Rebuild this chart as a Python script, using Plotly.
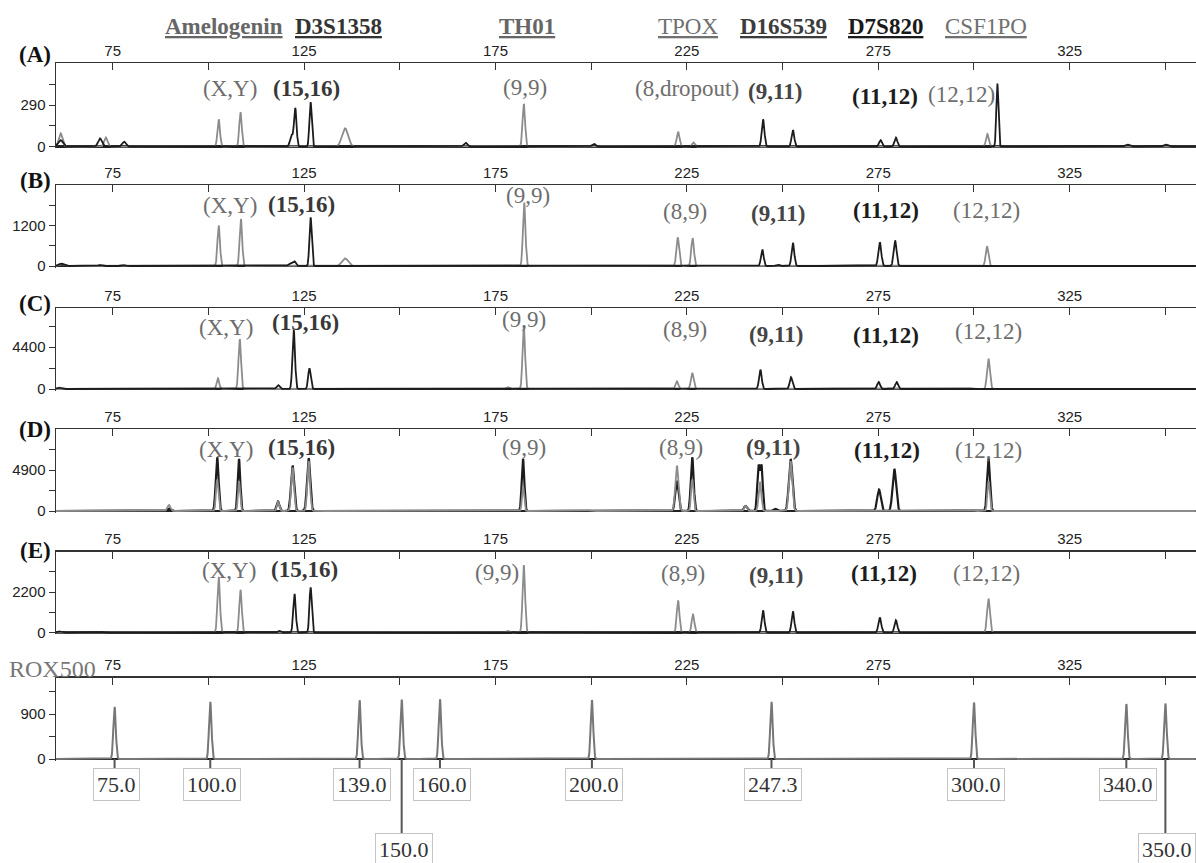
import numpy as np
import plotly.graph_objects as go

W, H = 1196, 863

# ---------------- data ----------------
x_tick_vals = [75, 100, 125, 150, 175, 200, 225, 250, 275, 300, 325, 350]
x_tick_text = ["75", "", "125", "", "175", "", "225", "", "275", "", "325", ""]

loci = ["Amelogenin", "D3S1358", "TH01", "TPOX", "D16S539", "D7S820", "CSF1PO"]
alleles_A = ["(X,Y)", "(15,16)", "(9,9)", "(8,dropout)", "(9,11)", "(11,12)", "(12,12)"]
alleles_other = ["(X,Y)", "(15,16)", "(9,9)", "(8,9)", "(9,11)", "(11,12)", "(12,12)"]
panel_names = ["(A)", "(B)", "(C)", "(D)", "(E)", "ROX500"]
y_label_vals = [290, 1200, 4400, 4900, 2200, 900]
y_tops = [580, 2400, 8500, 9800, 4400, 1630]

# peaks: size (bp), height (RFU), sigma (bp)
A_gray_pos = [61.4, 73.2, 102.7, 108.4, 135.7, 182.4, 222.7, 226.7, 303.5]
A_gray_h = [93, 65, 190, 239, 128, 297, 104, 30, 88]
A_gray_s = [0.5, 0.45, 0.33, 0.33, 0.8, 0.33, 0.37, 0.33, 0.37]
A_dark_pos = [61.4, 71.7, 78.0, 121.7, 122.7, 126.7, 167.2, 200.7, 244.9, 252.7, 275.6, 279.6, 306.1, 340.0, 350.0]
A_dark_h = [46, 58, 35, 80, 267, 311, 28, 20, 190, 116, 46, 63, 440, 15, 15]
A_dark_s = [0.6, 0.5, 0.5, 0.38, 0.33, 0.3, 0.5, 0.5, 0.35, 0.35, 0.38, 0.38, 0.27, 0.5, 0.5]

B_gray_pos = [61.7, 102.7, 108.5, 135.7, 182.5, 222.6, 226.5, 303.4]
B_gray_h = [60, 1200, 1395, 225, 1884, 850, 830, 585]
B_gray_s = [0.6, 0.33, 0.33, 0.8, 0.33, 0.35, 0.35, 0.35]
B_dark_pos = [61.5, 71.7, 78.0, 121.5, 122.5, 126.7, 244.7, 248.7, 252.7, 275.4, 279.4]
B_dark_h = [70, 30, 25, 90, 130, 1444, 488, 40, 683, 703, 751]
B_dark_s = [0.6, 0.5, 0.5, 0.5, 0.33, 0.3, 0.35, 0.4, 0.35, 0.38, 0.38]

C_gray_pos = [102.5, 108.2, 178.2, 182.4, 222.4, 226.4, 299.3, 303.8]
C_gray_h = [1126, 5245, 200, 6650, 810, 1690, 100, 3170]
C_gray_s = [0.33, 0.33, 0.4, 0.33, 0.35, 0.35, 0.5, 0.38]
C_dark_pos = [61.0, 118.2, 122.3, 126.4, 244.2, 252.2, 275.1, 279.8]
C_dark_h = [150, 422, 6230, 2182, 2040, 1230, 740, 740]
C_dark_s = [0.6, 0.38, 0.33, 0.33, 0.35, 0.35, 0.38, 0.38]

D_dark_pos = [89.7, 102.3, 108.0, 118.2, 122.0, 126.2, 182.2, 222.4, 226.4, 240.3, 243.7, 244.5, 248.1, 252.1, 275.2, 279.2, 303.8]
D_dark_h = [300, 6450, 6240, 1140, 5430, 6320, 6240, 3590, 6450, 600, 5300, 5300, 250, 6240, 2570, 5020, 6320]
D_dark_s = [0.4, 0.37, 0.33, 0.37, 0.42, 0.42, 0.33, 0.42, 0.37, 0.4, 0.32, 0.32, 0.4, 0.47, 0.47, 0.47, 0.37]
D_gray_pos = [89.7, 102.3, 108.0, 118.2, 122.0, 126.2, 182.2, 199.2, 222.4, 226.4, 240.3, 244.1, 252.1, 299.3, 303.8]
D_gray_h = [735, 3800, 3600, 1100, 5200, 6000, 3000, 100, 5430, 3800, 600, 3500, 6000, 100, 3600]
D_gray_s = [0.4, 0.3, 0.27, 0.3, 0.35, 0.35, 0.27, 0.6, 0.42, 0.3, 0.35, 0.35, 0.42, 0.5, 0.3]

E_gray_pos = [102.7, 108.4, 178.2, 182.4, 222.7, 226.6, 303.8]
E_gray_h = [3040, 2325, 100, 3670, 1754, 985, 1843]
E_gray_s = [0.33, 0.33, 0.4, 0.33, 0.35, 0.35, 0.38]
E_dark_pos = [61.0, 72.2, 118.5, 122.5, 126.7, 244.9, 252.7, 275.4, 279.6]
E_dark_h = [80, 50, 100, 2110, 2470, 1217, 1163, 823, 680]
E_dark_s = [0.6, 0.5, 0.38, 0.33, 0.3, 0.35, 0.35, 0.38, 0.38]

rox_pos = [75.5, 100.5, 139.5, 150.5, 160.5, 200.2, 247.1, 300.0, 339.8, 350.0]
rox_h = [1047, 1147, 1180, 1193, 1200, 1180, 1147, 1133, 1100, 1113]
rox_s = [0.32] * 10
rox_labels = ["75.0", "100.0", "139.0", "150.0", "160.0", "200.0", "247.3", "300.0", "340.0", "350.0"]
rox_low = [False, False, False, True, False, False, False, False, False, True]

# ---------------- layout geometry (pixels) ----------------
X0_PX = 56
X_RANGE = [60.2, 358.0]
panel_top_px = [63.3, 185, 308.3, 429.3, 551.7, 677.7]
panel_zero_px = [146.7, 266, 389, 511, 632.7, 759]
letter_y_px = [55, 180, 303, 430, 550, 669]
letter_x_px = [35, 35, 35, 35, 35, 52]
FRAC = 0.02

allele_xy = [
    [(230, 88), (306.5, 89), (525, 87), (687, 88), (775, 92), (885, 97), (961, 94)],
    [(229.6, 205), (301.6, 204), (528, 196), (685, 211.7), (777.5, 213), (885.7, 211), (986, 211)],
    [(226, 327), (305, 323), (524, 319), (685, 330), (775.5, 334), (885.7, 335), (988, 331.7)],
    [(226, 449), (301, 448), (524, 448), (680.5, 447), (773, 447), (887, 450), (988, 450)],
    [(229, 570), (304.6, 569), (497.5, 572.7), (682.8, 573), (776, 575), (884, 573), (986.6, 573)],
]
locus_x_px = [224, 338, 527, 688, 783, 885, 986]
LOCUS_Y = 27
locus_style = [("#666666", True), ("#333333", True), ("#666666", True), ("#707070", False),
               ("#3c3c3c", True), ("#1a1a1a", True), ("#707070", False)]
allele_style = [("#6e6e6e", False), ("#383838", True), ("#6e6e6e", False), ("#6e6e6e", False),
                ("#454545", True), ("#1c1c1c", True), ("#6e6e6e", False)]

GRAY = "#8c8c8c"
DARK = "#1c1c1c"
SERIF = "Liberation Serif"
SANS = "Liberation Sans"


def px_x(x):
    return x / W


def px_y(y):
    return 1 - y / H


grid = np.arange(X_RANGE[0], X_RANGE[1], 0.04)


def render(pos, h, s):
    y = np.zeros_like(grid)
    for p, hh, ss in zip(pos, h, s):
        y += hh * np.exp(-0.5 * ((grid - p) / ss) ** 2)
    return np.round(y, 1)


panel_series = [
    [(A_gray_pos, A_gray_h, A_gray_s, GRAY, 1.8), (A_dark_pos, A_dark_h, A_dark_s, DARK, 1.8)],
    [(B_gray_pos, B_gray_h, B_gray_s, GRAY, 1.8), (B_dark_pos, B_dark_h, B_dark_s, DARK, 1.8)],
    [(C_gray_pos, C_gray_h, C_gray_s, GRAY, 1.8), (C_dark_pos, C_dark_h, C_dark_s, DARK, 1.8)],
    [(D_dark_pos, D_dark_h, D_dark_s, DARK, 2.2), (D_gray_pos, D_gray_h, D_gray_s, GRAY, 1.8)],
    [(E_gray_pos, E_gray_h, E_gray_s, GRAY, 1.8), (E_dark_pos, E_dark_h, E_dark_s, DARK, 1.8)],
    [(rox_pos, rox_h, rox_s, "#777777", 2.0)],
]

fig = go.Figure()
layout = dict(
    width=W, height=H, margin=dict(l=0, r=0, t=0, b=0),
    paper_bgcolor="white", plot_bgcolor="white", showlegend=False,
)

for i in range(6):
    n = i + 1
    xa = "x" if n == 1 else f"x{n}"
    ya = "y" if n == 1 else f"y{n}"
    top_px, zero_px = panel_top_px[i], panel_zero_px[i]
    T = y_tops[i]
    bottom_px = zero_px + FRAC * (zero_px - top_px)
    for pos, h, s, color, lw in panel_series[i]:
        fig.add_trace(go.Scatter(x=grid, y=render(pos, h, s), mode="lines",
                                 line=dict(color=color, width=lw), xaxis=xa, yaxis=ya,
                                 hoverinfo="skip"))
    v = y_label_vals[i]
    layout[f"xaxis{'' if n == 1 else n}"] = dict(
        domain=[px_x(X0_PX), 1], range=X_RANGE, side="top", anchor=ya,
        showline=True, linecolor="#333333", linewidth=1.5,
        ticks="inside", ticklen=7, tickwidth=1, tickcolor="#333333",
        tickvals=x_tick_vals, ticktext=x_tick_text,
        tickfont=dict(family=SANS, size=15, color="#222222"),
        showgrid=False, zeroline=False, automargin=False, fixedrange=True,
    )
    layout[f"yaxis{'' if n == 1 else n}"] = dict(
        domain=[px_y(bottom_px), px_y(top_px)], range=[-FRAC * T, T], anchor=xa,
        showline=True, linecolor="#333333", linewidth=1.5,
        ticks="outside", ticklen=6, tickwidth=1, tickcolor="#333333",
        tickvals=[0, v / 2, v, 1.5 * v], ticktext=["0", "", str(v), ""],
        tickfont=dict(family=SANS, size=15, color="#222222"),
        showgrid=False, zeroline=True, zerolinecolor="#222222", zerolinewidth=2.5,
        automargin=False, fixedrange=True,
    )

annotations = []
shapes = []

# locus names
for name, xp, (col, bold) in zip(loci, locus_x_px, locus_style):
    annotations.append(dict(
        text=name, x=px_x(xp), y=px_y(LOCUS_Y), xref="paper", yref="paper",
        showarrow=False, xanchor="center", yanchor="middle",
        font=dict(family=SERIF, size=23, color=col, weight="bold" if bold else "normal",
                  lineposition="under"),
    ))

# panel letters
for i, name in enumerate(panel_names):
    rox = name == "ROX500"
    annotations.append(dict(
        text=name, x=px_x(letter_x_px[i]), y=px_y(letter_y_px[i]), xref="paper", yref="paper",
        showarrow=False, xanchor="center", yanchor="middle",
        font=dict(family=SERIF, size=24 if rox else 23, color="#777777" if rox else "#111111",
                  weight="normal" if rox else "bold"),
    ))

# allele labels
for i in range(5):
    labels = alleles_A if i == 0 else alleles_other
    for j, lab in enumerate(labels):
        xp, yp = allele_xy[i][j]
        col, bold = allele_style[j]
        annotations.append(dict(
            text=lab, x=px_x(xp), y=px_y(yp), xref="paper", yref="paper",
            showarrow=False, xanchor="center", yanchor="middle",
            font=dict(family=SERIF, size=23, color=col, weight="bold" if bold else "normal"),
        ))

# ROX size boxes
for pos, lab, low in zip(rox_pos, rox_labels, rox_low):
    y_end = 833 if low else 768
    shapes.append(dict(type="line", xref="x6", yref="paper", x0=pos, x1=pos,
                       y0=px_y(panel_zero_px[5]), y1=px_y(y_end),
                       line=dict(color="#555555", width=2)))
    annotations.append(dict(
        text=lab, x=pos, xref="x6", y=px_y(y_end), yref="paper",
        showarrow=False, xanchor="center", yanchor="top", xshift=2,
        bordercolor="#c4c4c4", borderwidth=1, borderpad=3, bgcolor="white",
        font=dict(family=SERIF, size=22, color="#333333"),
    ))

layout["annotations"] = annotations
layout["shapes"] = shapes
fig.update_layout(**layout)
fig.write_html(
    "out.html",
    config={"displayModeBar": False, "staticPlot": True},
    post_script="document.body.style.margin='0';document.body.style.padding='0';"
                "document.body.style.overflow='hidden';",
)
